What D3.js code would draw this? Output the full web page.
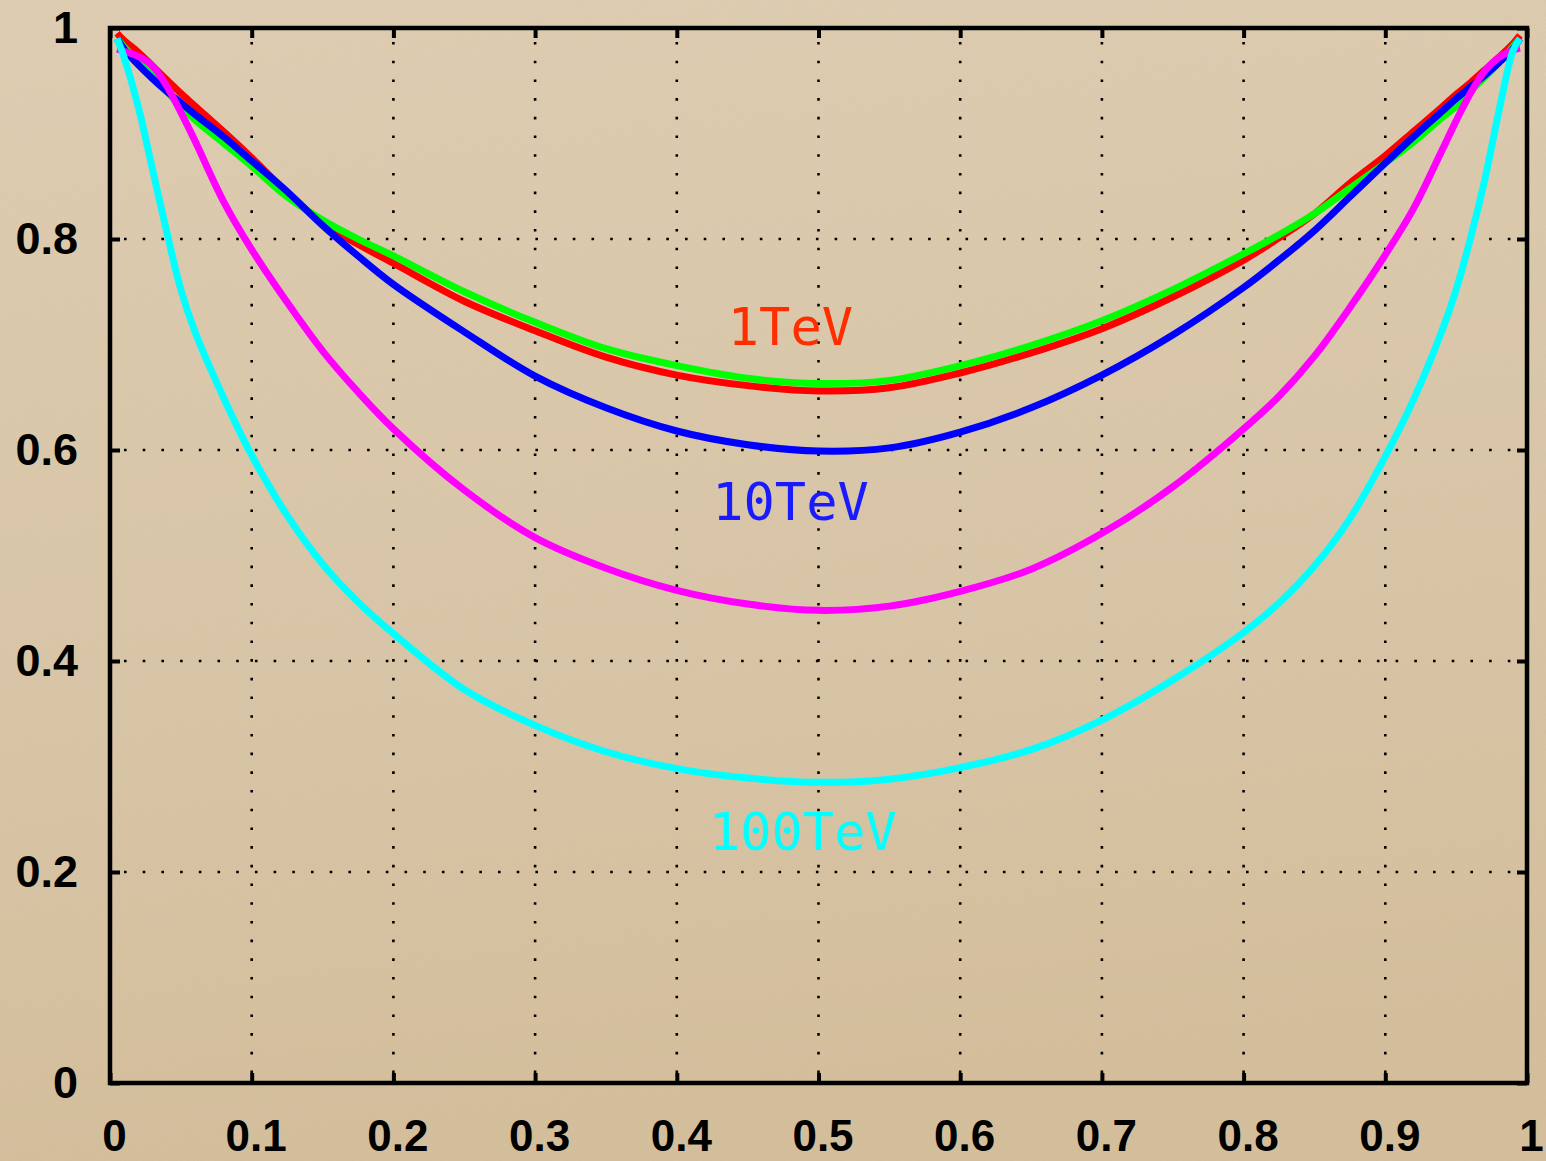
<!DOCTYPE html>
<html>
<head>
<meta charset="utf-8">
<script src="https://cdn.jsdelivr.net/npm/d3@7"></script>
<style>
  html, body { margin: 0; padding: 0; background: #dcc9ab; }
  svg { display: block; }
</style>
</head>
<body>
<svg id="chart" width="1546" height="1161"></svg>
<script>
// Sample positions shared by every curve
const xs = [0.005, 0.01, 0.02, 0.03, 0.04, 0.05, 0.06, 0.08, 0.1, 0.125, 0.15, 0.175, 0.2,
            0.25, 0.3, 0.35, 0.4, 0.45, 0.5, 0.55, 0.6, 0.65, 0.7, 0.75, 0.8, 0.825, 0.85,
            0.875, 0.9, 0.92, 0.94, 0.95, 0.96, 0.97, 0.98, 0.99, 0.995];

const redValues = [0.995, 0.988, 0.977, 0.964, 0.951, 0.938, 0.926, 0.902, 0.877, 0.844, 0.815, 0.795, 0.777,
                   0.741, 0.713, 0.688, 0.671, 0.661, 0.656, 0.659, 0.673, 0.692, 0.715, 0.745, 0.780, 0.801, 0.824,
                   0.853, 0.879, 0.902, 0.925, 0.937, 0.948, 0.960, 0.972, 0.985, 0.993];
const greenValues = [0.99, 0.982, 0.968, 0.955, 0.940, 0.926, 0.913, 0.891, 0.869, 0.840, 0.818, 0.800, 0.784,
                     0.750, 0.721, 0.696, 0.680, 0.668, 0.663, 0.666, 0.680, 0.699, 0.7225, 0.752, 0.786, 0.804, 0.824,
                     0.848, 0.872, 0.892, 0.915, 0.926, 0.940, 0.953, 0.967, 0.982, 0.99];
const blueValues = [0.99, 0.98, 0.965, 0.952, 0.940, 0.929, 0.918, 0.897, 0.874, 0.845, 0.813, 0.784, 0.757,
                    0.712, 0.670, 0.640, 0.618, 0.605, 0.599, 0.602, 0.617, 0.640, 0.671, 0.709, 0.754, 0.780, 0.808,
                    0.840, 0.872, 0.897, 0.921, 0.933, 0.944, 0.955, 0.967, 0.98, 0.99];
const magentaValues = [0.98, 0.978, 0.973, 0.964, 0.945, 0.920, 0.893, 0.836, 0.790, 0.740, 0.694, 0.655, 0.620,
                       0.562, 0.517, 0.488, 0.467, 0.454, 0.448, 0.452, 0.466, 0.487, 0.521, 0.565, 0.620, 0.651, 0.689,
                       0.735, 0.785, 0.829, 0.884, 0.912, 0.938, 0.959, 0.972, 0.979, 0.981];
const cyanValues = [0.99, 0.972, 0.925, 0.866, 0.807, 0.752, 0.712, 0.650, 0.595, 0.538, 0.492, 0.456, 0.426,
                    0.373, 0.339, 0.314, 0.298, 0.289, 0.285, 0.288, 0.299, 0.316, 0.344, 0.382, 0.427, 0.455, 0.490,
                    0.535, 0.594, 0.648, 0.713, 0.752, 0.800, 0.855, 0.920, 0.978, 0.99];

// Drawing order: later curves sit on top
const seriesValues = [redValues, greenValues, blueValues, magentaValues, cyanValues];
const seriesColors = ["#ff0000", "#00ff00", "#0000ff", "#ff00ff", "#00ffff"];

// In-plot energy labels (text, anchor x, baseline y in data units)
const labelTexts = ["1TeV", "10TeV", "100TeV"];
const labelX = [0.436, 0.425, 0.4227];
const labelY = [0.6995, 0.5336, 0.2209];
const labelColors = ["#ff2d00", "#1a1aff", "#00ffff"];

const xTicks = [0, 0.1, 0.2, 0.3, 0.4, 0.5, 0.6, 0.7, 0.8, 0.9, 1];
const xTickLabels = ["0", "0.1", "0.2", "0.3", "0.4", "0.5", "0.6", "0.7", "0.8", "0.9", "1"];
const yTicks = [0, 0.2, 0.4, 0.6, 0.8, 1];
const yTickLabels = ["0", "0.2", "0.4", "0.6", "0.8", "1"];

const W = 1546, H = 1161;
const plotLeft = 110, plotRight = 1527, plotTop = 28, plotBottom = 1083;

const svg = d3.select("#chart");
const defs = svg.append("defs");

// Paper background with a faint grain
const grad = defs.append("linearGradient").attr("id", "paper").attr("x1", 0).attr("y1", 0).attr("x2", 0.15).attr("y2", 1);
grad.append("stop").attr("offset", "0%").attr("stop-color", "#e0cfb4");
grad.append("stop").attr("offset", "55%").attr("stop-color", "#dbc8aa");
grad.append("stop").attr("offset", "100%").attr("stop-color", "#d6c09d");

const grain = defs.append("filter").attr("id", "grain").attr("x", 0).attr("y", 0).attr("width", "100%").attr("height", "100%");
grain.append("feTurbulence").attr("type", "fractalNoise").attr("baseFrequency", 0.75).attr("numOctaves", 2).attr("seed", 4).attr("result", "noise");
grain.append("feColorMatrix").attr("in", "noise").attr("type", "matrix")
  .attr("values", "0 0 0 0 0.45  0 0 0 0 0.36  0 0 0 0 0.25  0 0 0 0.16 0");

svg.append("rect").attr("width", W).attr("height", H).attr("fill", "url(#paper)");
svg.append("rect").attr("width", W).attr("height", H).attr("filter", "url(#grain)").attr("opacity", 0.8);

const x = d3.scaleLinear().domain([0, 1]).range([plotLeft, plotRight]);
const y = d3.scaleLinear().domain([0, 1]).range([plotBottom, plotTop]);

// Dotted grid
const grid = svg.append("g").attr("stroke", "#000").attr("stroke-width", 2.6)
  .attr("stroke-dasharray", "2.6 16.1").attr("fill", "none");
grid.selectAll("line.v").data(xTicks.slice(1, -1)).join("line").attr("class", "v")
  .attr("x1", d => x(d)).attr("x2", d => x(d))
  .attr("y1", y(1) + 14).attr("y2", y(0) - 2);
grid.selectAll("line.h").data(yTicks.slice(1, -1)).join("line").attr("class", "h")
  .attr("y1", d => y(d)).attr("y2", d => y(d))
  .attr("x1", x(0) + 14).attr("x2", x(1) - 2);

// Curves
const line = d3.line()
  .x((d, i) => x(xs[i]))
  .y(d => y(d))
  .curve(d3.curveCatmullRom.alpha(0.5));

svg.append("g").selectAll("path").data(seriesValues).join("path")
  .attr("d", d => line(d))
  .attr("fill", "none")
  .attr("stroke", (d, i) => seriesColors[i])
  .attr("stroke-width", 7)
  .attr("stroke-linejoin", "round");

// Energy labels
svg.append("g").selectAll("text").data(labelTexts).join("text")
  .attr("x", (d, i) => x(labelX[i]))
  .attr("y", (d, i) => y(labelY[i]))
  .attr("fill", (d, i) => labelColors[i])
  .attr("font-family", "'DejaVu Sans Mono', monospace")
  .attr("font-size", 52)
  .text(d => d);

// Axes with inward ticks, mirrored on top and right
const tickFont = "'Liberation Sans', Arial, sans-serif";

const xAxis = d3.axisBottom(x).tickValues(xTicks)
  .tickFormat((d, i) => xTickLabels[i]).tickSize(-10).tickPadding(37);
const gx = svg.append("g").attr("transform", `translate(0,${plotBottom})`).call(xAxis);
gx.select(".domain").remove();
gx.selectAll(".tick line").attr("stroke", "#000").attr("stroke-width", 4);
gx.selectAll(".tick text").attr("fill", "#000").attr("font-family", tickFont)
  .attr("font-weight", "bold").attr("font-size", 44).attr("dx", 4);

const yAxis = d3.axisLeft(y).tickValues(yTicks)
  .tickFormat((d, i) => yTickLabels[i]).tickSize(-10).tickPadding(32);
const gy = svg.append("g").attr("transform", `translate(${plotLeft},0)`).call(yAxis);
gy.select(".domain").remove();
gy.selectAll(".tick line").attr("stroke", "#000").attr("stroke-width", 4);
gy.selectAll(".tick text").attr("fill", "#000").attr("font-family", tickFont)
  .attr("font-weight", "bold").attr("font-size", 45);

const gxTop = svg.append("g").attr("transform", `translate(0,${plotTop})`)
  .call(d3.axisTop(x).tickValues(xTicks).tickFormat("").tickSize(-10));
gxTop.select(".domain").remove();
gxTop.selectAll(".tick line").attr("stroke", "#000").attr("stroke-width", 4);

const gyRight = svg.append("g").attr("transform", `translate(${plotRight},0)`)
  .call(d3.axisRight(y).tickValues(yTicks).tickFormat("").tickSize(-10));
gyRight.select(".domain").remove();
gyRight.selectAll(".tick line").attr("stroke", "#000").attr("stroke-width", 4);

// Plot frame
svg.append("rect")
  .attr("x", x(0)).attr("y", y(1))
  .attr("width", x(1) - x(0)).attr("height", y(0) - y(1))
  .attr("fill", "none").attr("stroke", "#000").attr("stroke-width", 4.5);
</script>
</body>
</html>
